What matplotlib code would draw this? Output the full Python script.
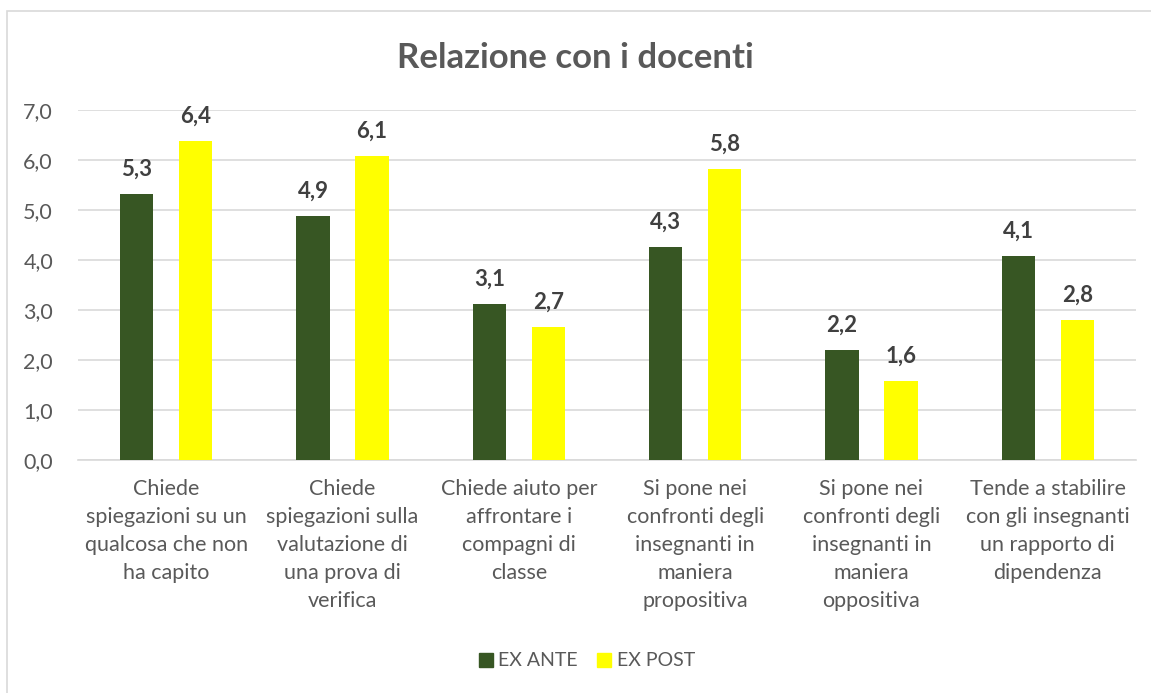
import numpy as np
import matplotlib.pyplot as plt
from matplotlib.patches import Rectangle, Patch

categories = [
    "Chiede\nspiegazioni su un\nqualcosa che non\nha capito",
    "Chiede\nspiegazioni sulla\nvalutazione di\nuna prova di\nverifica",
    "Chiede aiuto per\naffrontare i\ncompagni di\nclasse",
    "Si pone nei\nconfronti degli\ninsegnanti in\nmaniera\npropositiva",
    "Si pone nei\nconfronti degli\ninsegnanti in\nmaniera\noppositiva",
    "Tende a stabilire\ncon gli insegnanti\nun rapporto di\ndipendenza",
]
ex_ante = [5.33, 4.88, 3.13, 4.26, 2.21, 4.08]
ex_post = [6.38, 6.09, 2.66, 5.83, 1.58, 2.80]

green = "#375623"
yellow = "#FFFF00"
txt = "#595959"
grid = "#D9D9D9"

plt.rcParams['font.family'] = ['Lato', 'DejaVu Sans']

fig = plt.figure(figsize=(11.51, 6.93), dpi=100)
fig.patches.append(Rectangle((7/1151, -0.1), 1.2, 1 - 11/693 + 0.1,
                             transform=fig.transFigure, fill=False,
                             edgecolor=grid, linewidth=1.2))
ax = fig.add_axes([78/1151, 1 - 460/693, (1136 - 78)/1151, 350/693])

x = np.arange(len(categories))
w = 0.19
off = 0.167
b1 = ax.bar(x - off, ex_ante, w, color=green, label="EX ANTE", zorder=3)
b2 = ax.bar(x + off, ex_post, w, color=yellow, label="EX POST", zorder=3)

for bars in (b1, b2):
    for r in bars:
        h = r.get_height()
        ax.annotate(f"{h:.1f}".replace(".", ","),
                    (r.get_x() + r.get_width()/2, h),
                    xytext=(0, 10), textcoords="offset points",
                    ha="center", va="bottom", fontsize=16,
                    fontweight="bold", color="#404040")

ax.set_xlim(-0.5, len(categories) - 0.5)
ax.set_ylim(0, 7)
ax.set_yticks(np.arange(0, 8, 1))
ax.set_yticklabels([f"{v:.1f}".replace(".", ",") for v in range(8)])
ax.yaxis.grid(True, color=grid, linewidth=1.2, zorder=0)
ax.set_xticks(x)
ax.set_xticklabels(categories, linespacing=1.5)
ax.tick_params(axis="both", length=0, labelsize=15.5, colors=txt)
ax.tick_params(axis="x", pad=14)
ax.tick_params(axis="y", pad=18)
for s in ("top", "right", "left"):
    ax.spines[s].set_visible(False)
ax.spines["bottom"].set_color(grid)
ax.spines["bottom"].set_linewidth(1.2)

fig.text(0.5, 1 - 58/693, "Relazione con i docenti", ha="center", va="center",
         fontsize=25, fontweight="bold", color=txt)

handles = [Patch(color=green), Patch(color=yellow)]
fig.legend(handles, ["EX ANTE", "EX POST"], loc="center",
           bbox_to_anchor=(0.51, 1 - 661/693), ncol=2, frameon=False,
           fontsize=14, labelcolor=txt, handlelength=0.7, handleheight=0.7,
           handletextpad=0.3, columnspacing=1.0)

fig.savefig("out.png", dpi=100)
